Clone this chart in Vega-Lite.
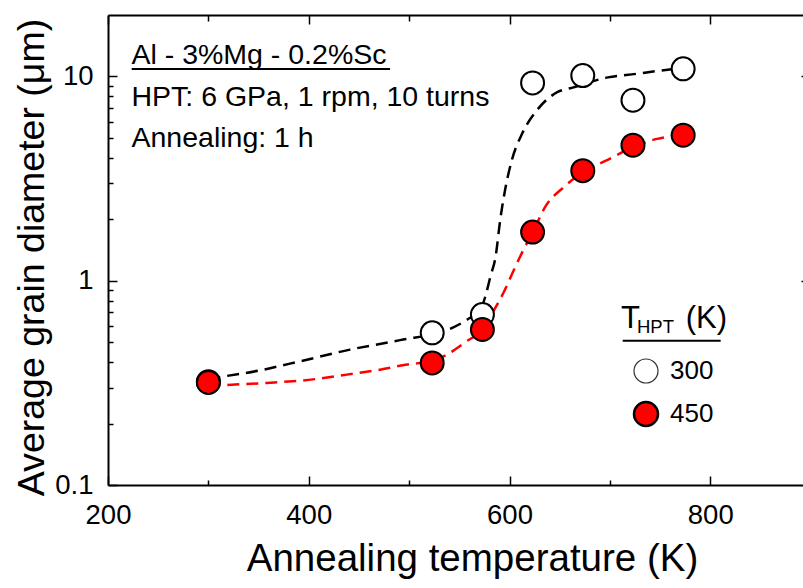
{
  "$schema": "https://vega.github.io/schema/vega-lite/v6.json",
  "width": 695,
  "height": 470,
  "autosize": {"type": "none"},
  "padding": {"left": 108, "top": 15, "right": 0, "bottom": 103},
  "background": "white",
  "config": {
    "view": {"stroke": null},
    "font": "Liberation Sans",
    "axis": {
      "grid": false,
      "domainColor": "black",
      "tickColor": "black",
      "labelColor": "black",
      "titleColor": "black",
      "domainWidth": 2,
      "tickWidth": 1.5,
      "labelFont": "Liberation Sans",
      "titleFont": "Liberation Sans",
      "labelFlush": false,
      "titleFontWeight": "normal"
    }
  },
  "datasets": {
    "points": [
      {"series": "300", "T": 300, "d": 0.32},
      {"series": "300", "T": 523, "d": 0.556},
      {"series": "300", "T": 573, "d": 0.683},
      {"series": "300", "T": 623, "d": 9.3},
      {"series": "300", "T": 673, "d": 10.1},
      {"series": "300", "T": 723, "d": 7.65},
      {"series": "300", "T": 773, "d": 10.9},
      {"series": "450", "T": 300, "d": 0.318},
      {"series": "450", "T": 523, "d": 0.396},
      {"series": "450", "T": 573, "d": 0.577},
      {"series": "450", "T": 623, "d": 1.73},
      {"series": "450", "T": 673, "d": 3.46},
      {"series": "450", "T": 723, "d": 4.61},
      {"series": "450", "T": 773, "d": 5.16}
    ],
    "curve300": [
      {"T": 300, "d": 0.332},
      {"T": 350, "d": 0.363},
      {"T": 392, "d": 0.404},
      {"T": 441, "d": 0.46},
      {"T": 491, "d": 0.512},
      {"T": 543, "d": 0.588},
      {"T": 558, "d": 0.646},
      {"T": 571, "d": 0.723},
      {"T": 576, "d": 0.84},
      {"T": 581, "d": 1.05},
      {"T": 586, "d": 1.3},
      {"T": 591, "d": 2.03},
      {"T": 596, "d": 2.85},
      {"T": 602.5, "d": 3.92},
      {"T": 613, "d": 5.3},
      {"T": 628, "d": 6.9},
      {"T": 648, "d": 8.4},
      {"T": 662, "d": 8.8},
      {"T": 698, "d": 9.9},
      {"T": 726, "d": 10.3},
      {"T": 751, "d": 10.7},
      {"T": 773, "d": 11.0}
    ],
    "curve450": [
      {"T": 300, "d": 0.305},
      {"T": 314, "d": 0.308},
      {"T": 358, "d": 0.316},
      {"T": 402, "d": 0.328},
      {"T": 438, "d": 0.347},
      {"T": 471, "d": 0.367},
      {"T": 498, "d": 0.389},
      {"T": 523, "d": 0.405},
      {"T": 539, "d": 0.439},
      {"T": 556, "d": 0.501},
      {"T": 573, "d": 0.58},
      {"T": 582.5, "d": 0.69},
      {"T": 594, "d": 0.873},
      {"T": 604, "d": 1.12},
      {"T": 614, "d": 1.42},
      {"T": 623, "d": 1.72},
      {"T": 636, "d": 2.32},
      {"T": 654, "d": 2.87},
      {"T": 673, "d": 3.4},
      {"T": 695, "d": 3.85},
      {"T": 723, "d": 4.5},
      {"T": 747, "d": 4.95},
      {"T": 773, "d": 5.16}
    ],
    "notes": [
      {"T": 223.4, "d": 11.51, "label": "Al - 3%Mg - 0.2%Sc"},
      {"T": 223.4, "d": 7.17, "label": "HPT: 6 GPa, 1 rpm, 10 turns"},
      {"T": 223.4, "d": 4.5, "label": "Annealing: 1 h"}
    ],
    "underlines": [
      {"T": 223.6, "T2": 481.0, "d": 10.88},
      {"T": 712.8, "T2": 810.4, "d": 0.509}
    ],
    "legtitleBig": [
      {"T": 711.1, "d": 0.585, "label": "T"},
      {"T": 775.5, "d": 0.585, "label": "(K)"}
    ],
    "legtitleSub": [
      {"T": 727.0, "d": 0.553, "label": "HPT"}
    ]
  },
  "layer": [
    {
      "data": {"name": "curve300"},
      "mark": {"type": "line", "strokeDash": [12, 7], "strokeWidth": 2.5, "interpolate": "monotone", "stroke": "black"},
      "encoding": {
        "x": {
          "field": "T", "type": "quantitative",
          "scale": {"domain": [200, 892.4], "nice": false, "zero": false},
          "axis": {
            "orient": "bottom",
            "title": "Annealing temperature (K)",
            "values": [200, 300, 400, 500, 600, 700, 800],
            "labelExpr": "datum.value % 200 == 0 ? datum.label : ''",
            "tickSize": {"condition": {"test": "datum.value % 200 == 0", "value": -9}, "value": -5},
            "labelPadding": 25,
            "labelFontSize": 27.5,
            "titleFontSize": 38.5,
            "titleX": 364,
            "titleY": 85,
            "titleBaseline": "alphabetic",
            "titleAlign": "center"
          }
        },
        "y": {
          "field": "d", "type": "quantitative",
          "scale": {"type": "log", "domain": [0.1, 20], "nice": false},
          "axis": {
            "orient": "left",
            "title": "Average grain diameter (μm)",
            "values": [0.1, 0.2, 0.3, 0.4, 0.5, 0.6, 0.7, 0.8, 0.9, 1, 2, 3, 4, 5, 6, 7, 8, 9, 10],
            "labelExpr": "datum.value == 0.1 ? '0.1' : datum.value == 1 ? '1' : datum.value == 10 ? '10' : ''",
            "tickSize": {"condition": {"test": "datum.value == 0.1 || datum.value == 1 || datum.value == 10", "value": -9}, "value": -5},
            "labelPadding": 24,
            "labelFontSize": 27.5,
            "titleFontSize": 37.5,
            "titleX": -64.5,
            "titleY": 242,
            "titleAngle": -90,
            "titleBaseline": "alphabetic",
            "titleAlign": "center"
          }
        }
      }
    },
    {
      "data": {"name": "curve450"},
      "mark": {"type": "line", "strokeDash": [12, 7], "strokeWidth": 2.5, "interpolate": "monotone", "stroke": "#ff0000"},
      "encoding": {
        "x": {"field": "T", "type": "quantitative", "axis": null},
        "y": {"field": "d", "type": "quantitative", "axis": null}
      }
    },
    {
      "data": {"name": "points"},
      "mark": {"type": "point", "filled": true, "shape": "circle", "stroke": "black", "strokeWidth": 2, "size": 529, "opacity": 1},
      "encoding": {
        "x": {
          "field": "T", "type": "quantitative",
          "axis": {
            "orient": "top", "title": null, "labels": false,
            "values": [200, 300, 400, 500, 600, 700, 800],
            "tickSize": {"condition": {"test": "datum.value % 200 == 0", "value": -9}, "value": -6}
          }
        },
        "y": {
          "field": "d", "type": "quantitative",
          "axis": {"orient": "right", "title": null, "labels": false, "domain": false, "values": [1, 10], "tickSize": -2}
        },
        "fill": {
          "field": "series", "type": "nominal",
          "scale": {"domain": ["300", "450"], "range": ["white", "#ff0000"]},
          "legend": {
            "orient": "none", "legendX": 525, "legendY": 343, "title": null, "direction": "vertical",
            "symbolType": "circle", "symbolSize": 576, "symbolStrokeColor": "black", "symbolStrokeWidth": 1.5,
            "symbolOpacity": 1, "labelFontSize": 26, "labelFont": "Liberation Sans", "labelColor": "black",
            "labelOffset": 11, "rowPadding": 11, "padding": 0,
            "encode": {
              "symbols": {
                "update": {
                  "strokeWidth": {"signal": "datum.value == '450' ? 2.5 : 1.2"},
                  "stroke": {"signal": "datum.value == '450' ? 'black' : '#333333'"}
                }
              }
            }
          }
        }
      }
    },
    {
      "data": {"name": "notes"},
      "mark": {"type": "text", "align": "left", "baseline": "alphabetic", "fontSize": 28.5, "font": "Liberation Sans", "color": "black"},
      "encoding": {
        "x": {"field": "T", "type": "quantitative", "axis": null},
        "y": {"field": "d", "type": "quantitative", "axis": null},
        "text": {"field": "label"}
      }
    },
    {
      "data": {"name": "underlines"},
      "mark": {"type": "rule", "strokeWidth": 2, "color": "black"},
      "encoding": {
        "x": {"field": "T", "type": "quantitative", "axis": null},
        "x2": {"field": "T2"},
        "y": {"field": "d", "type": "quantitative", "axis": null}
      }
    },
    {
      "data": {"name": "legtitleBig"},
      "mark": {"type": "text", "align": "left", "baseline": "alphabetic", "fontSize": 31, "font": "Liberation Sans", "color": "black"},
      "encoding": {
        "x": {"field": "T", "type": "quantitative", "axis": null},
        "y": {"field": "d", "type": "quantitative", "axis": null},
        "text": {"field": "label"}
      }
    },
    {
      "data": {"name": "legtitleSub"},
      "mark": {"type": "text", "align": "left", "baseline": "alphabetic", "fontSize": 18.5, "font": "Liberation Sans", "color": "black"},
      "encoding": {
        "x": {"field": "T", "type": "quantitative", "axis": null},
        "y": {"field": "d", "type": "quantitative", "axis": null},
        "text": {"field": "label"}
      }
    }
  ],
  "resolve": {"axis": {"x": "independent", "y": "independent"}}
}
